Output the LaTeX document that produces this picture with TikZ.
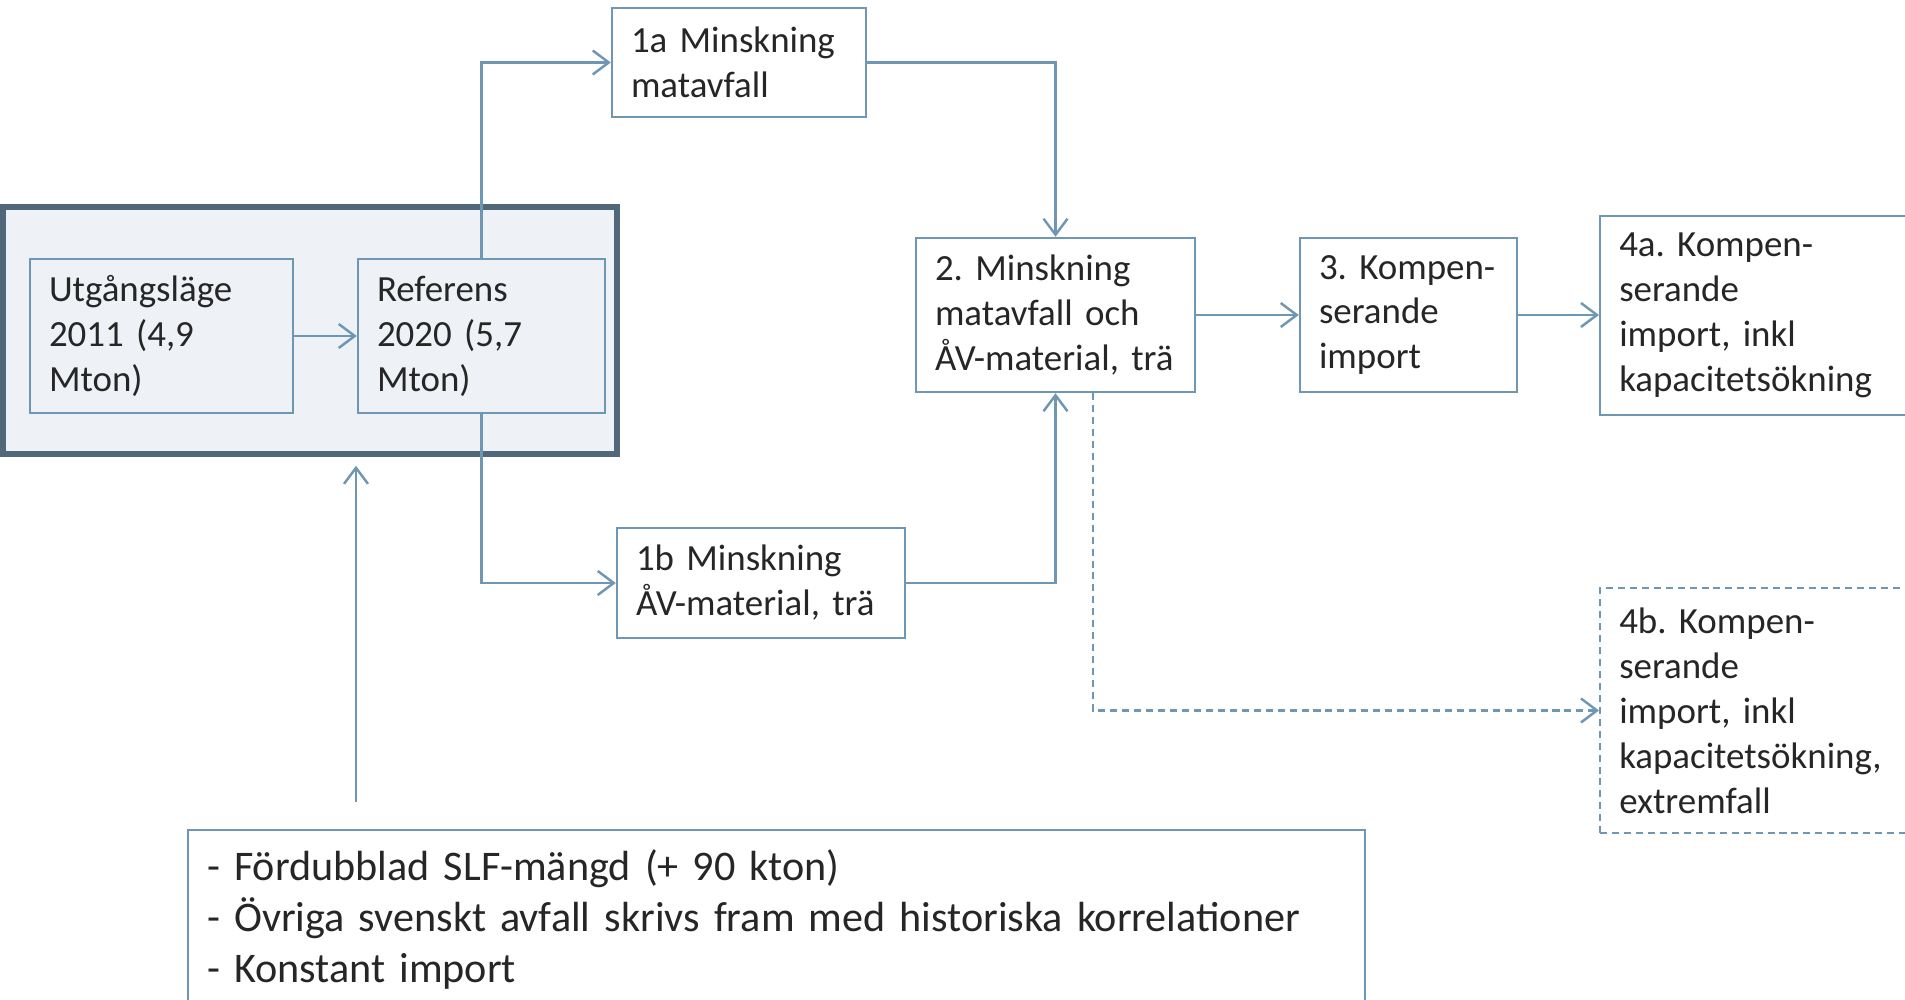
\documentclass[tikz,border=0pt]{standalone}
\usepackage{fontspec}
\setmainfont{Carlito}
\frenchspacing
\usetikzlibrary{positioning,arrows.meta}

\definecolor{linecol}{RGB}{111,151,179}
\definecolor{groupcol}{RGB}{80,104,122}
\definecolor{groupfill}{RGB}{238,242,246}
\definecolor{textcol}{RGB}{38,38,38}

\begin{document}
\begin{tikzpicture}[
    box/.style={
        rectangle,% plain box
        draw=linecol,
        line width=0.7pt,
        fill=white,
        text=textcol,
        align=left,
        inner xsep=0.19cm,
        font=\fontsize{10.5}{12.8}\selectfont,
    },
    dashedbox/.style={box, dash pattern=on 2pt off 1.4pt},
    groupbox/.style={rectangle, draw=groupcol, line width=1.6pt, fill=groupfill, minimum width=6.14cm, minimum height=2.47cm},
    arrow/.style={draw=linecol, line width=0.7pt, -{Straight Barb[length=1.6mm, width=2.4mm]}}
]
    \useasboundingbox (0,0) rectangle (19.05,-10);

    % Nodes
    \node[groupbox] (group) at (3.10,-3.305) {};
    \node[box, fill=none, text width=2.25cm, minimum height=1.54cm] (utg) at (1.615,-3.36) {Utgångsläge\\2011 (4,9\\Mton)};
    \node[box, fill=none, text width=2.09cm, minimum height=1.54cm] (ref) at (4.815,-3.36) {Referens\\2020 (5,7\\Mton)};

    \node[box, text width=2.16cm, minimum height=1.09cm] (m1a) at (7.39,-0.625) {1a Minskning\\matavfall};
    \node[box, text width=2.50cm, minimum height=1.10cm] (m1b) at (7.61,-5.83) {1b Minskning\\ÅV-material, trä};

    \node[box, text width=2.41cm, minimum height=1.54cm] (min2) at (10.555,-3.15) {2. Minskning\\matavfall och\\ÅV-material, trä};
    \node[box, text width=1.79cm, minimum height=1.54cm] (komp3) at (14.085,-3.15) {3. Kompen-\\serande\\import};

    \node[box, text width=2.82cm, minimum height=1.99cm, anchor=west] (komp4a) at (15.99,-3.155) {4a. Kompen-\\serande\\import, inkl\\kapacitetsökning};
    \node[dashedbox, text width=2.82cm, minimum height=2.45cm, anchor=west] (komp4b) at (15.99,-7.105) {4b. Kompen-\\serande\\import, inkl\\kapacitetsökning,\\extremfall};

    \node[box, text width=11.39cm, minimum height=1.78cm, anchor=north west, font=\fontsize{12}{14.5}\selectfont] (assump) at (1.87,-8.29) {- Fördubblad SLF-mängd (+ 90 kton)\\- Övriga svenskt avfall skrivs fram med historiska korrelationer\\- Konstant import};

    \coordinate (assumpTop) at ([xshift=1.69cm, yshift=0.27cm]assump.north west);
    \coordinate (groupBottom) at ([yshift=-0.09cm]group.south west -| assumpTop);

    % Connections
    \draw[arrow] (utg) -- (ref);
    \draw[arrow] (ref.north) |- (m1a.west);
    \draw[arrow] (ref.south) |- (m1b.west);
    \draw[arrow] (m1a.east) -| (min2.north);
    \draw[arrow] (m1b.east) -| (min2.south);
    \draw[arrow] (min2) -- (komp3);
    \draw[arrow] (komp3.east) -- (komp3.east -| komp4a.west);
    \draw[arrow, dash pattern=on 2pt off 1.4pt] ([xshift=0.375cm]min2.south) |- (komp4b.west);
    \draw[arrow] (assumpTop) -- (groupBottom);
\end{tikzpicture}
\end{document}
